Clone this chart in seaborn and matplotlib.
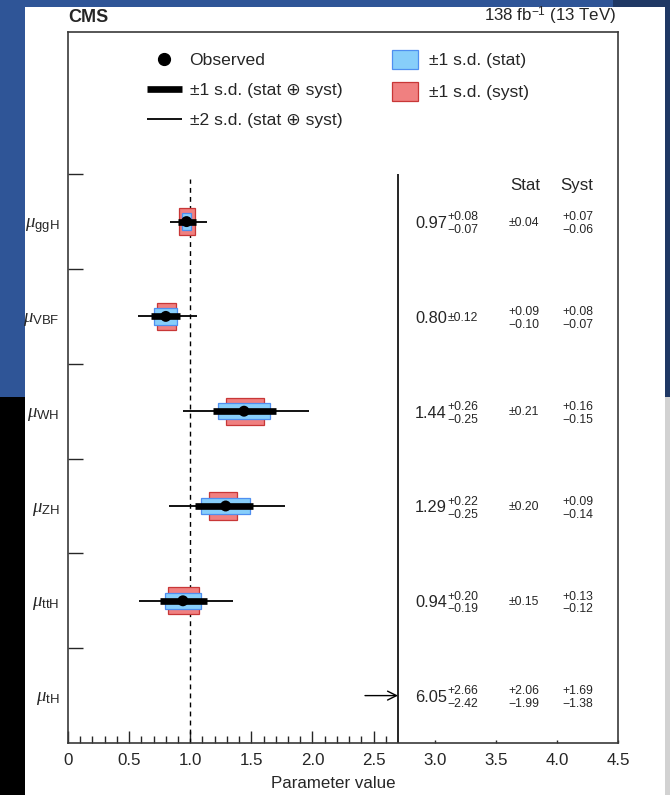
import numpy as np
import matplotlib
matplotlib.use("Agg")
import matplotlib.pyplot as plt
import seaborn as sns
from matplotlib.lines import Line2D
from matplotlib.patches import Patch, Rectangle

# --- data (top to bottom) ---
params = ["ggH", "VBF", "WH", "ZH", "ttH", "tH"]
obs = [0.97, 0.80, 1.44, 1.29, 0.94, 6.05]
tot_up = [0.08, 0.12, 0.26, 0.22, 0.20, 2.66]
tot_dn = [0.07, 0.12, 0.25, 0.25, 0.19, 2.42]
stat_up = [0.04, 0.09, 0.21, 0.20, 0.15, 2.06]
stat_dn = [0.04, 0.10, 0.21, 0.20, 0.15, 1.99]
syst_up = [0.07, 0.08, 0.16, 0.09, 0.13, 1.69]
syst_dn = [0.06, 0.07, 0.15, 0.14, 0.12, 1.38]
two_sd_lo = [0.835, 0.575, 0.944, 0.829, 0.581, np.nan]
two_sd_hi = [1.14, 1.053, 1.975, 1.776, 1.353, np.nan]
xticks = [0, 0.5, 1.0, 1.5, 2.0, 2.5, 3.0, 3.5, 4.0, 4.5]
xtick_labels = ["0", "0.5", "1.0", "1.5", "2.0", "2.5", "3.0", "3.5", "4.0", "4.5"]

sns.set_style("ticks")
plt.rcParams["font.family"] = ["Liberation Sans", "DejaVu Sans"]
plt.rcParams["mathtext.fontset"] = "custom"
plt.rcParams["mathtext.rm"] = "Liberation Sans"
plt.rcParams["mathtext.it"] = "Liberation Serif:italic"
plt.rcParams["axes.edgecolor"] = "#3a3a3a"

W, H = 670, 795
fig = plt.figure(figsize=(W / 100, H / 100), dpi=100)
fig.patch.set_facecolor("white")

def px_rect(x0, y0, x1, y1, color):
    fig.add_artist(Rectangle((x0 / W, 1 - y1 / H), (x1 - x0) / W, (y1 - y0) / H,
                             transform=fig.transFigure, color=color, lw=0, zorder=-10))

# slide background around the figure
px_rect(0, 0, 613, 7, "#2f5597")
px_rect(613, 0, 670, 7, "#1f3864")
px_rect(0, 0, 25, 397, "#2f5597")
px_rect(0, 397, 25, 795, "black")
px_rect(665, 0, 670, 397, "#1f3864")
px_rect(665, 397, 670, 795, "#d2d2d2")

ax = fig.add_axes([68 / W, 1 - 743 / H, 550 / W, 711 / H])
ax.set_facecolor("white")

n = len(params)
rows = np.array([n - 1 - i for i in range(n)], dtype=float)
obs_a = np.array(obs)
vis = obs_a < 2.7

blue_fill, blue_edge = "#87cefa", "#4f8ff0"
red_fill, red_edge = "#f08080", "#c83737"

# syst box (behind), stat box (front)
ax.barh(rows[vis], np.array(syst_up)[vis] + np.array(syst_dn)[vis],
        left=obs_a[vis] - np.array(syst_dn)[vis], height=0.285,
        color=red_fill, edgecolor=red_edge, linewidth=0.9, zorder=2)
ax.barh(rows[vis], np.array(stat_up)[vis] + np.array(stat_dn)[vis],
        left=obs_a[vis] - np.array(stat_dn)[vis], height=0.175,
        color=blue_fill, edgecolor=blue_edge, linewidth=0.9, zorder=3)
ax.hlines(rows[vis], np.array(two_sd_lo)[vis], np.array(two_sd_hi)[vis],
          color="black", lw=1.3, zorder=4)
thick = ax.hlines(rows[vis], obs_a[vis] - np.array(tot_dn)[vis], obs_a[vis] + np.array(tot_up)[vis],
                  color="black", lw=4.8, zorder=5)
thick.set_capstyle("butt")
sns.scatterplot(x=obs_a[vis], y=rows[vis], color="black", s=62, edgecolor="none",
                zorder=6, ax=ax, legend=False)

# SM line and separator
ax.vlines(1.0, -0.5, 5.45, color="black", lw=1.0, linestyles=(0, (3.5, 3)), zorder=1)
ax.vlines(2.7, -0.5, 5.5, color="black", lw=1.2, zorder=1)

# off-scale arrow for tH
for r, o in zip(rows, obs_a):
    if o >= 2.7:
        ax.annotate("", xy=(2.7, r), xytext=(2.43, r),
                    arrowprops=dict(arrowstyle="->", lw=1.0, color="black",
                                    mutation_scale=16, shrinkA=0, shrinkB=0))

def fmt(v):
    return f"{v:.2f}"

# numbers on the right
for i, r in enumerate(rows):
    ax.text(2.84, r - 0.02, fmt(obs[i]), fontsize=11.8, ha="left", va="center")
    if tot_up[i] == tot_dn[i]:
        ax.text(3.105, r - 0.02, "\u00b1" + fmt(tot_up[i]), fontsize=8.8, ha="left", va="center")
    else:
        ax.text(3.105, r + 0.045, "+" + fmt(tot_up[i]), fontsize=8.8, ha="left", va="center")
        ax.text(3.105, r - 0.09, "\u2212" + fmt(tot_dn[i]), fontsize=8.8, ha="left", va="center")
    for xc, up, dn in [(3.73, stat_up[i], stat_dn[i]), (4.17, syst_up[i], syst_dn[i])]:
        if up == dn:
            ax.text(xc, r - 0.01, "\u00b1" + fmt(up), fontsize=8.8, ha="center", va="center")
        else:
            ax.text(xc, r + 0.045, "+" + fmt(up), fontsize=8.8, ha="center", va="center")
            ax.text(xc, r - 0.09, "\u2212" + fmt(dn), fontsize=8.8, ha="center", va="center")

ax.text(3.74, 5.38, "Stat", fontsize=12.2, ha="center", va="center")
ax.text(4.16, 5.38, "Syst", fontsize=12.2, ha="center", va="center")

# axes
ax.set_xlim(0, 4.5)
ax.set_ylim(-0.5, 7.0)
ax.set_xticks(xticks)
ax.set_xticklabels(xtick_labels, fontsize=12.2)
ax.set_xticks([x / 10 for x in range(1, 27) if x % 5 != 0], minor=True)
ax.tick_params(axis="x", which="major", direction="in", length=9, width=1.0, pad=7)
ax.tick_params(axis="x", which="minor", direction="in", length=5, width=1.0)
for t, loc in zip(ax.xaxis.get_major_ticks(), xticks):
    if loc > 2.7:
        t.tick1line.set_markersize(2)

ax.set_yticks(rows)
ax.set_yticklabels([r"$\mu_{\mathrm{" + p + "}}$" for p in params], fontsize=13.5)
ax.set_yticks([r + 0.5 for r in rows], minor=True)
ax.tick_params(axis="y", which="major", length=0, pad=6)
ax.tick_params(axis="y", which="minor", direction="in", length=11, width=1.0)
ax.tick_params(top=False, right=False)
for s in ax.spines.values():
    s.set_linewidth(1.2)

ax.set_xlabel("Parameter value", fontsize=12.2)
ax.xaxis.set_label_coords(0.482, -0.046)
ax.xaxis.label.set_va("top")

# legends
h_left = [Line2D([], [], marker="o", ls="none", color="black", markersize=8.5),
          Line2D([], [], color="black", lw=4.8, solid_capstyle="butt"),
          Line2D([], [], color="black", lw=1.3, solid_capstyle="butt")]
l_left = ["Observed", "\u00b11 s.d. (stat \u2295 syst)", "\u00b12 s.d. (stat \u2295 syst)"]
leg1 = ax.legend(h_left, l_left, loc="upper left", bbox_to_anchor=(0.143, 0.971),
                 frameon=False, fontsize=12.6, handlelength=2.0, handletextpad=0.45,
                 labelspacing=0.84, borderpad=0, borderaxespad=0)
ax.add_artist(leg1)
h_right = [Patch(facecolor=blue_fill, edgecolor=blue_edge, lw=0.9),
           Patch(facecolor=red_fill, edgecolor=red_edge, lw=0.9)]
l_right = ["\u00b11 s.d. (stat)", "\u00b11 s.d. (syst)"]
ax.legend(h_right, l_right, loc="upper left", bbox_to_anchor=(0.589, 0.975),
          frameon=False, fontsize=12.6, handlelength=1.5, handleheight=1.3,
          handletextpad=0.6, labelspacing=0.74, borderpad=0, borderaxespad=0)

fig.text(68 / W, 1 - 17 / H, "CMS", fontsize=13, fontweight="bold", ha="left", va="center")
fig.text(616 / W, 1 - 16 / H, r"138 fb$^{-1}$ (13 TeV)", fontsize=12.2, ha="right", va="center")

fig.savefig("out.png", dpi=100, facecolor=fig.get_facecolor())
